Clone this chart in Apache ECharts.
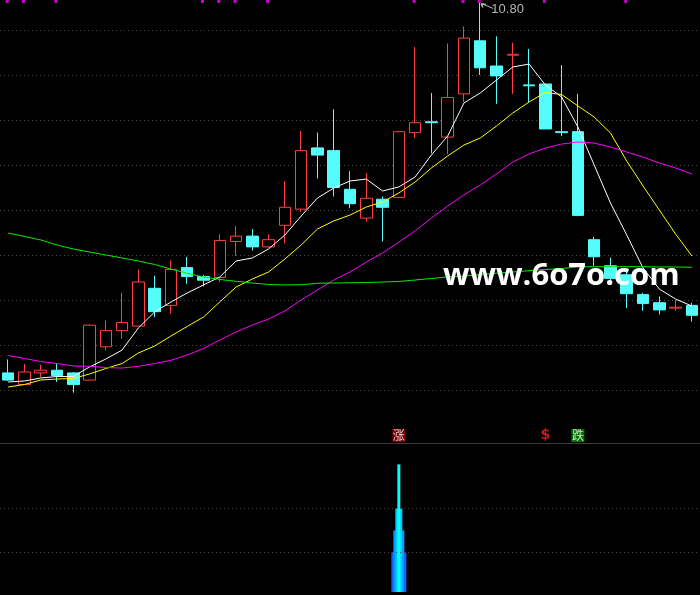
<!DOCTYPE html>
<html>
<head>
<meta charset="utf-8">
<script src="https://cdn.jsdelivr.net/npm/echarts@6.0.0/dist/echarts.min.js"></script>
<style>
html,body{margin:0;padding:0;background:#000;}
#main{width:700px;height:595px;}
</style>
</head>
<body>
<div id="main"></div>
<script>
// ---------------- data ----------------
const categories = ['1','2','3','4','5','6','7','8','9','10','11','12','13','14','15','16','17','18','19','20','21','22','23','24','25','26','27','28','29','30','31','32','33','34','35','36','37','38','39','40','41','42','43'];
const opens  = [6.69,6.56,6.69,6.72,6.69,6.61,6.98,7.16,7.21,7.63,7.44,7.86,7.76,7.75,8.15,8.21,8.09,8.33,8.51,9.19,9.16,8.73,8.41,8.62,8.64,9.36,9.48,9.31,9.79,10.38,10.10,10.22,9.89,9.90,9.37,9.37,8.17,7.88,7.78,7.56,7.47,7.41,7.44];
const closes = [6.61,6.70,6.72,6.66,6.56,7.22,7.16,7.25,7.70,7.37,7.84,7.76,7.72,8.16,8.21,8.09,8.17,8.53,9.16,9.11,8.75,8.57,8.63,8.53,9.37,9.47,9.47,9.75,10.41,10.08,9.99,10.23,9.88,9.40,9.36,8.44,7.98,7.74,7.57,7.46,7.39,7.42,7.33];
const highs  = [6.84,6.79,6.78,6.79,6.70,7.23,7.27,7.58,7.84,7.77,7.94,7.98,7.78,8.23,8.32,8.29,8.23,8.82,9.38,9.36,9.62,8.93,8.91,8.65,9.38,10.31,9.80,10.35,10.54,10.80,10.43,10.36,10.29,9.90,10.11,9.79,8.20,7.97,7.82,7.58,7.54,7.50,7.47];
const lows   = [6.60,6.56,6.64,6.59,6.47,6.61,6.94,7.07,7.21,7.31,7.35,7.68,7.65,7.70,7.99,8.05,8.08,8.13,8.48,8.85,8.65,8.52,8.37,8.15,8.64,9.30,9.13,9.12,9.70,10.00,9.68,9.79,9.69,9.40,9.32,8.43,7.88,7.67,7.41,7.38,7.34,7.38,7.26];

const ma5  = [6.589,6.600,6.633,6.650,6.650,6.756,6.844,6.944,7.189,7.367,7.478,7.578,7.667,7.756,7.933,7.967,8.067,8.222,8.433,8.633,8.744,8.822,8.844,8.711,8.756,8.867,9.111,9.322,9.689,9.800,9.944,10.089,10.122,9.889,9.756,9.422,9.000,8.578,8.222,7.856,7.622,7.511,7.433];
const ma10 = [6.533,6.561,6.611,6.622,6.628,6.678,6.739,6.794,6.911,6.989,7.100,7.206,7.311,7.478,7.644,7.733,7.811,7.956,8.111,8.289,8.378,8.444,8.533,8.589,8.689,8.811,8.967,9.100,9.222,9.300,9.433,9.578,9.700,9.806,9.783,9.656,9.533,9.356,9.044,8.767,8.500,8.233,7.989];
const ma20 = [6.883,6.850,6.817,6.794,6.767,6.764,6.749,6.744,6.763,6.794,6.830,6.889,6.961,7.056,7.144,7.222,7.289,7.378,7.500,7.611,7.722,7.811,7.922,8.022,8.144,8.267,8.411,8.544,8.667,8.778,8.900,9.033,9.122,9.189,9.233,9.256,9.244,9.200,9.144,9.089,9.022,8.967,8.900];
const ma60 = [8.244,8.206,8.167,8.111,8.067,8.033,8.000,7.967,7.933,7.894,7.844,7.797,7.756,7.728,7.708,7.689,7.672,7.667,7.670,7.686,7.689,7.692,7.694,7.700,7.706,7.722,7.739,7.756,7.767,7.783,7.797,7.811,7.826,7.839,7.850,7.867,7.870,7.870,7.870,7.870,7.867,7.867,7.863];

const topSignalIdx    = [0,1,3,12,13,14,16,25,28,29,33,38];
const riseSignalIdx   = [24];
const dollarSignalIdx = [33];
const fallSignalIdx   = [35];

const pulseBarIdx   = 24;
const pulseLevels   = [1, 1.5, 2, 3];
const indicatorRefs = [1, 2];

// ---------------- chart ----------------
const PRICE_MIN = 6.0, PRICE_MAX = 10.8333, PRICE_STEP = 0.5;
const TOP_MARK = 10.817, BOTTOM_MARK = 5.994;

const candleData = categories.map((c, i) => [opens[i], closes[i], lows[i], highs[i]]);
const pulseData = pulseLevels.map(v => categories.map((c, i) => i === pulseBarIdx ? v : '-'));
const pulseWidths = [15, 11, 7, 3];
const pulseColors = ['#1060ff', '#0096ff', '#00c8ff', '#00ffff'];

const chart = echarts.init(document.getElementById('main'), null, {renderer: 'canvas'});

const dotted = {color: '#4a4a4a', width: 1, type: [1, 3]};

const series = [
  {
    type: 'candlestick', name: 'K', xAxisIndex: 0, yAxisIndex: 0,
    data: candleData, barWidth: 12,
    itemStyle: {color: '#000', color0: '#54fcfc', borderColor: '#ff4040', borderColor0: '#54fcfc', borderWidth: 1},
    markPoint: {
      silent: true,
      symbol: 'path://M0,0 L12,5 M0,0 L5,0.6 M0,0 L1.5,4',
      symbolSize: [12, 5],
      symbolOffset: [7, 3],
      itemStyle: {color: 'none', borderColor: '#c8c8c8', borderWidth: 1},
      label: {show: true, position: [14, 1], color: '#b4b4b4', fontSize: 13, fontFamily: 'Arial, "Liberation Sans"',
              formatter: p => Number(p.value).toFixed(2)},
      data: [{type: 'max', valueDim: 'highest'}]
    }
  },
  {type: 'line', name: 'MA5',  data: ma5,  xAxisIndex: 0, yAxisIndex: 0, symbol: 'none', lineStyle: {color: '#ffffff', width: 1}, silent: true},
  {type: 'line', name: 'MA10', data: ma10, xAxisIndex: 0, yAxisIndex: 0, symbol: 'none', lineStyle: {color: '#ffff00', width: 1}, silent: true},
  {type: 'line', name: 'MA20', data: ma20, xAxisIndex: 0, yAxisIndex: 0, symbol: 'none', lineStyle: {color: '#ff00ff', width: 1}, silent: true},
  {type: 'line', name: 'MA60', data: ma60, xAxisIndex: 0, yAxisIndex: 0, symbol: 'none', lineStyle: {color: '#00ee00', width: 1}, silent: true},
  {
    type: 'scatter', xAxisIndex: 0, yAxisIndex: 0, silent: true,
    data: topSignalIdx.map(i => [i, TOP_MARK]),
    symbol: 'rect', symbolSize: 3, symbolOffset: [-1, 0], itemStyle: {color: '#ff00ff'}
  },
  {
    type: 'scatter', xAxisIndex: 0, yAxisIndex: 0, silent: true, clip: false,
    data: riseSignalIdx.map(i => [i, BOTTOM_MARK]),
    symbol: 'rect', symbolSize: 13, itemStyle: {color: '#960000'},
    label: {show: true, position: 'inside', formatter: '涨', color: '#ffffff', fontSize: 12, fontFamily: '"Noto Sans CJK SC"'}
  },
  {
    type: 'scatter', xAxisIndex: 0, yAxisIndex: 0, silent: true, clip: false,
    data: fallSignalIdx.map(i => [i, BOTTOM_MARK]),
    symbol: 'rect', symbolSize: 13, itemStyle: {color: '#009000'},
    label: {show: true, position: 'inside', formatter: '跌', color: '#ffffff', fontSize: 12, fontFamily: '"Noto Sans CJK SC"'}
  },
  {
    type: 'scatter', xAxisIndex: 0, yAxisIndex: 0, silent: true, clip: false,
    data: dollarSignalIdx.map(i => [i, BOTTOM_MARK]),
    symbol: 'rect', symbolSize: [8, 13], itemStyle: {color: 'rgba(0,0,0,0)'},
    label: {show: true, position: 'inside', formatter: '$', color: '#ff2020', fontSize: 14, fontWeight: 'bold', fontFamily: '"DejaVu Sans"'}
  }
];

pulseData.forEach((d, k) => {
  const s = {
    type: 'bar', xAxisIndex: 1 + k, yAxisIndex: 1, data: d,
    barWidth: pulseWidths[k], itemStyle: {color: pulseColors[k]}, silent: true
  };
  if (k === 0) {
    s.markLine = {
      silent: true, symbol: ['none', 'none'], label: {show: false},
      lineStyle: dotted,
      data: indicatorRefs.map(v => ({yAxis: v}))
    };
  }
  series.push(s);
});

const hiddenCat = gi => ({type: 'category', gridIndex: gi, data: categories, boundaryGap: true, show: false});

const option = {
  backgroundColor: '#000',
  animation: false,
  grid: [
    {left: 0, right: 0, top: 0, height: 435},
    {left: 0, right: 0, top: 443, bottom: 3}
  ],
  xAxis: [
    hiddenCat(0),
    {type: 'category', gridIndex: 1, data: categories, boundaryGap: true, position: 'top',
     axisLine: {show: true, onZero: false, lineStyle: {color: '#3c3c3c', width: 1}},
     axisTick: {show: false}, axisLabel: {show: false}, splitLine: {show: false}},
    hiddenCat(1), hiddenCat(1), hiddenCat(1)
  ],
  yAxis: [
    {type: 'value', gridIndex: 0, min: PRICE_MIN, max: PRICE_MAX, interval: PRICE_STEP, scale: true,
     axisLine: {show: false}, axisTick: {show: false}, axisLabel: {show: false},
     splitLine: {show: true, showMinLine: false, showMaxLine: false, lineStyle: dotted}},
    {type: 'value', gridIndex: 1, min: 0.1, max: 3.486,
     axisLine: {show: false}, axisTick: {show: false}, axisLabel: {show: false}, splitLine: {show: false}}
  ],
  graphic: [
    {type: 'text', left: 443, top: 261, z: 100, silent: true,
     style: {text: 'www.6o7o.com', fill: '#ffffff', font: 'bold 31px "Open Sans"',
             shadowColor: '#8a8a8a', shadowOffsetX: 1, shadowOffsetY: 1, shadowBlur: 0}}
  ],
  series: series
};

chart.setOption(option);
</script>
</body>
</html>
